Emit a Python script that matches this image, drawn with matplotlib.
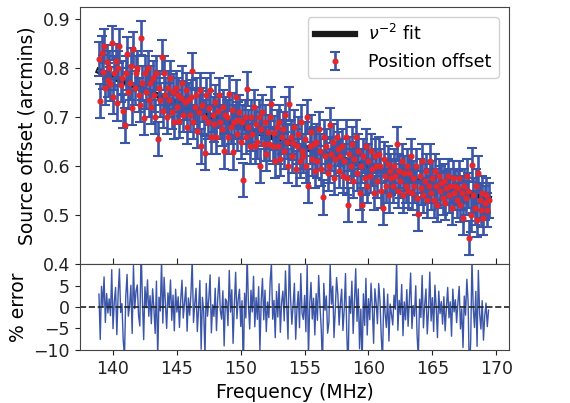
import numpy as np
import matplotlib
matplotlib.use('Agg')
import matplotlib.pyplot as plt

# Source position offset per frequency channel (arcmin)
offset = [
    0.818, 0.733, 0.830, 0.792, 0.845, 0.760, 0.812, 0.775, 0.800, 0.768,
    0.851, 0.742, 0.790, 0.815, 0.728, 0.800, 0.845, 0.765, 0.780, 0.712,
    0.683, 0.790, 0.828, 0.752, 0.770, 0.805, 0.718, 0.838, 0.760, 0.790,
    0.800, 0.745, 0.725, 0.862, 0.770, 0.698, 0.790, 0.752, 0.800, 0.735,
    0.770, 0.720, 0.780, 0.745, 0.700, 0.790, 0.655, 0.760, 0.735, 0.822,
    0.712, 0.790, 0.745, 0.700, 0.760, 0.735, 0.780, 0.710, 0.752, 0.690,
    0.760, 0.720, 0.745, 0.692, 0.738, 0.770, 0.705, 0.730, 0.755, 0.680,
    0.735, 0.705, 0.740, 0.795, 0.690, 0.720, 0.745, 0.672, 0.710, 0.755,
    0.640, 0.725, 0.700, 0.626, 0.745, 0.690, 0.718, 0.756, 0.660, 0.705,
    0.685, 0.730, 0.660, 0.712, 0.745, 0.690, 0.675, 0.720, 0.630, 0.705,
    0.700, 0.660, 0.748, 0.680, 0.715, 0.628, 0.690, 0.740, 0.665, 0.695,
    0.710, 0.650, 0.690, 0.572, 0.700, 0.660, 0.758, 0.680, 0.640, 0.700,
    0.665, 0.720, 0.640, 0.685, 0.650, 0.700, 0.600, 0.676, 0.710, 0.645,
    0.690, 0.625, 0.670, 0.645, 0.700, 0.726, 0.640, 0.668, 0.610, 0.680,
    0.640, 0.690, 0.615, 0.660, 0.676, 0.630, 0.705, 0.650, 0.600, 0.727,
    0.660, 0.620, 0.648, 0.680, 0.595, 0.640, 0.665, 0.610, 0.690, 0.630,
    0.620, 0.655, 0.600, 0.700, 0.560, 0.640, 0.670, 0.615, 0.645, 0.590,
    0.650, 0.610, 0.675, 0.630, 0.595, 0.536, 0.660, 0.620, 0.640, 0.585,
    0.600, 0.683, 0.625, 0.650, 0.575, 0.615, 0.660, 0.635, 0.590, 0.620,
    0.640, 0.580, 0.610, 0.660, 0.575, 0.520, 0.625, 0.600, 0.645, 0.570,
    0.615, 0.660, 0.585, 0.630, 0.545, 0.600, 0.520, 0.620, 0.575, 0.640,
    0.560, 0.610, 0.580, 0.630, 0.595, 0.545, 0.620, 0.600, 0.570, 0.625,
    0.600, 0.550, 0.515, 0.615, 0.580, 0.560, 0.605, 0.540, 0.590, 0.575,
    0.560, 0.600, 0.580, 0.645, 0.550, 0.590, 0.570, 0.610, 0.540, 0.585,
    0.560, 0.600, 0.550, 0.585, 0.620, 0.545, 0.575, 0.560, 0.600, 0.535,
    0.502, 0.580, 0.555, 0.610, 0.540, 0.570, 0.590, 0.530, 0.560, 0.610,
    0.545, 0.575, 0.530, 0.590, 0.560, 0.520, 0.580, 0.550, 0.565, 0.535,
    0.570, 0.525, 0.555, 0.580, 0.540, 0.560, 0.515, 0.575, 0.545, 0.560,
    0.530, 0.555, 0.575, 0.520, 0.545, 0.495, 0.560, 0.535, 0.580, 0.550,
    0.453, 0.500, 0.602, 0.540, 0.515, 0.560, 0.490, 0.585, 0.530, 0.510,
    0.545, 0.495, 0.525, 0.540, 0.510, 0.530,
]
offset_err = 0.035  # typical error bar half-length (arcmin)
freq_start, freq_stop = 138.9, 169.4  # MHz, channel range

offset = np.array(offset)
freq = np.linspace(freq_start, freq_stop, len(offset))

# nu^-2 fit (least squares for A in y = A / nu^2)
basis = freq ** -2.0
amp = np.sum(offset * basis) / np.sum(basis * basis)
fit = amp * basis
pct_err = (offset - fit) / fit * 100

blue = '#3b55a7'
red = '#e5262c'
plt.rcParams['font.family'] = 'DejaVu Sans'
plt.rcParams['font.size'] = 12.5
plt.rcParams['axes.labelsize'] = 13.5

fig = plt.figure(figsize=(5.7, 4.03), dpi=100)
gs = fig.add_gridspec(2, 1, height_ratios=[3, 1], hspace=0,
                      left=0.14, right=0.893, top=0.983, bottom=0.132)
ax = fig.add_subplot(gs[0])
ax2 = fig.add_subplot(gs[1], sharex=ax)

ax.plot(freq, fit, color='#1a1a1a', lw=4.5, label=r'$\nu^{-2}$ fit', zorder=1)
ax.errorbar(freq, offset, yerr=offset_err, fmt='o', ms=3.4, mfc=red, mec=red,
            ecolor=blue, elinewidth=1.9, capsize=3.5, capthick=1.5,
            label='Position offset', zorder=2)
ax.set_ylim(0.4, 0.925)
ax.set_yticks([0.4, 0.5, 0.6, 0.7, 0.8, 0.9])
ax.set_ylabel('Source offset (arcmins)')
ax.legend(loc='upper right', fancybox=True, framealpha=0.9, edgecolor='#cccccc',
          borderaxespad=0.6, handlelength=2.3)
ax.tick_params(axis='x', labelbottom=False, direction='in', length=4)

ax2.plot(freq, pct_err, color=blue, lw=1)
ax2.axhline(0, color='#222222', ls='--', lw=1.2)
ax2.set_ylim(-10, 10)
ax2.set_yticks([-10, -5, 0, 5])
ax2.set_xlim(137.4, 171.0)
ax2.set_xticks([140, 145, 150, 155, 160, 165, 170])
ax2.set_ylabel('% error')
ax2.set_xlabel('Frequency (MHz)')

for a in (ax, ax2):
    for s in a.spines.values():
        s.set_color('#444444')
    a.tick_params(colors='#222222')

plt.savefig('out.png', dpi=100)
plt.close()
